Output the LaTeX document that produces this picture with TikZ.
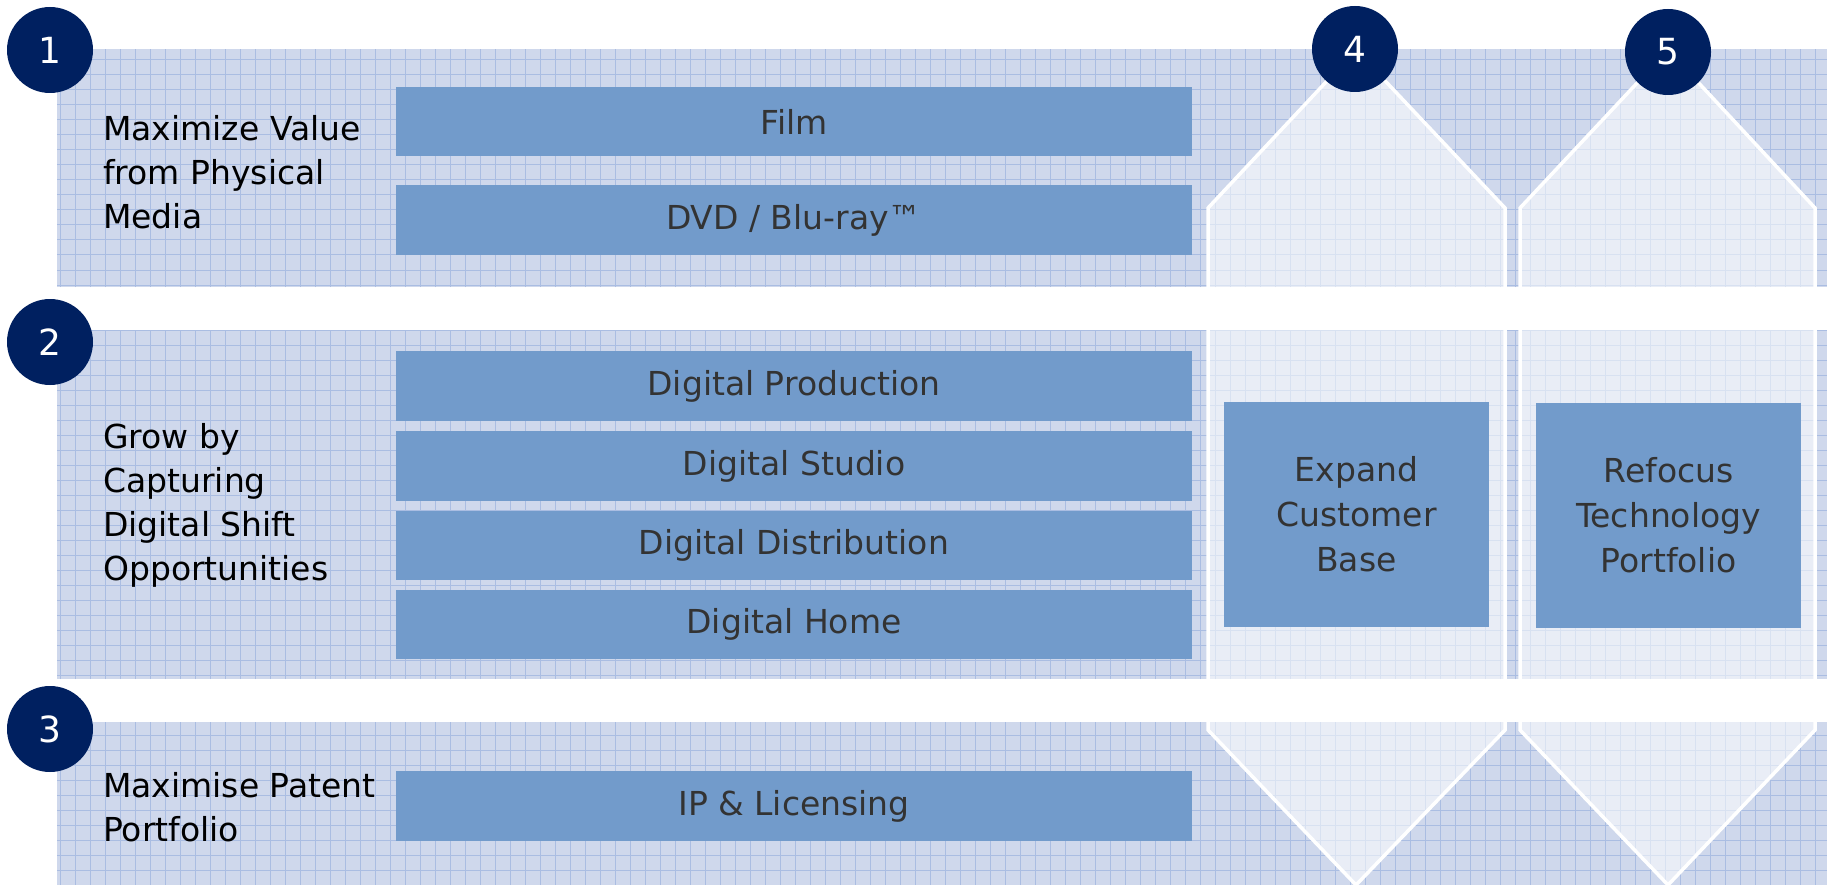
\documentclass[tikz,border=0pt]{standalone}
\usepackage{fontspec}
\setmainfont{DejaVu Sans}
\usetikzlibrary{positioning}

\definecolor{laneblue}{RGB}{207,216,236}
\definecolor{gridblue}{RGB}{170,189,226}
\definecolor{boxblue}{RGB}{114,155,203}
\definecolor{navy}{RGB}{0,32,96}
\definecolor{textgrey}{RGB}{51,51,51}

\begin{document}
\begin{tikzpicture}[x=1pt,y=-1pt,
  lane/.style={fill=laneblue},
  lanegrid/.style={draw=gridblue, line width=1pt, step=15pt},
  arrowhex/.style={fill=white, fill opacity=0.55, draw=white, draw opacity=1, line width=3.5pt},
  itembox/.style={fill=boxblue, inner sep=0pt, text=textgrey, align=center, font=\fontsize{33}{45}\selectfont},
  lanelabel/.style={anchor=north west, inner sep=0pt, align=left, font=\fontsize{33}{44}\selectfont},
  numdot/.style={circle, fill=navy, minimum size=86pt, inner sep=0pt, text=white, font=\fontsize{36}{36}\selectfont}]

\fill[white] (0,0) rectangle (1827,885);
\useasboundingbox (0,0) rectangle (1827,885);

\fill[lane] (57,49) rectangle (1827,287);
\fill[lane] (57,330) rectangle (1827,679);
\fill[lane] (57,722) rectangle (1827,885);
\draw[lanegrid] (57,49) grid (1827,287);
\draw[lanegrid] (57,330) grid (1827,679);
\draw[lanegrid] (57,722) grid (1827,885);

\coordinate (p1) at (1356,50);
\coordinate (p2) at (1505,208);
\coordinate (p3) at (1505,730);
\coordinate (p4) at (1356,885);
\coordinate (p5) at (1208,730);
\coordinate (p6) at (1208,208);

\coordinate (q1) at (1668,50);
\coordinate (q2) at (1815,208);
\coordinate (q3) at (1815,730);
\coordinate (q4) at (1668,885);
\coordinate (q5) at (1520,730);
\coordinate (q6) at (1520,208);

\filldraw[arrowhex] (p1) -- (p2) -- (p3) -- (p4) -- (p5) -- (p6) -- cycle;
\filldraw[arrowhex] (q1) -- (q2) -- (q3) -- (q4) -- (q5) -- (q6) -- cycle;

\node[itembox, minimum width=796pt, minimum height=69pt] (film) at (794,121.5) {Film};
\node[itembox, minimum width=796pt, minimum height=70pt] (dvd) at (794,220) {DVD / Blu-ray™};
\node[itembox, minimum width=796pt, minimum height=70pt] (dprod) at (794,386) {Digital Production};
\node[itembox, minimum width=796pt, minimum height=70pt] (dstudio) at (794,466) {Digital Studio};
\node[itembox, minimum width=796pt, minimum height=69pt] (ddist) at (794,545.5) {Digital Distribution};
\node[itembox, minimum width=796pt, minimum height=69pt] (dhome) at (794,624.5) {Digital Home};
\node[itembox, minimum width=796pt, minimum height=70pt] (iplic) at (794,806) {IP \& Licensing};
\node[itembox, minimum width=265pt, minimum height=225pt] (expand) at (1356.5,514.5) {Expand\\Customer\\Base};
\node[itembox, minimum width=265pt, minimum height=225pt] (refocus) at (1668.5,515.5) {Refocus\\Technology\\Portfolio};

\node[lanelabel] (media) at (103,115) {Maximize Value\\from Physical\\Media};
\node[lanelabel] (grow) at (103,423) {Grow by\\Capturing\\Digital Shift\\Opportunities};
\node[lanelabel] (patent) at (103,772) {Maximise Patent\\Portfolio};

\node[numdot] (n1) at (50,50) {1};
\node[numdot] (n2) at (50,342) {2};
\node[numdot] (n3) at (50,729) {3};
\node[numdot] (n4) at (1355,49) {4};
\node[numdot] (n5) at (1668,52) {5};
\end{tikzpicture}
\end{document}
